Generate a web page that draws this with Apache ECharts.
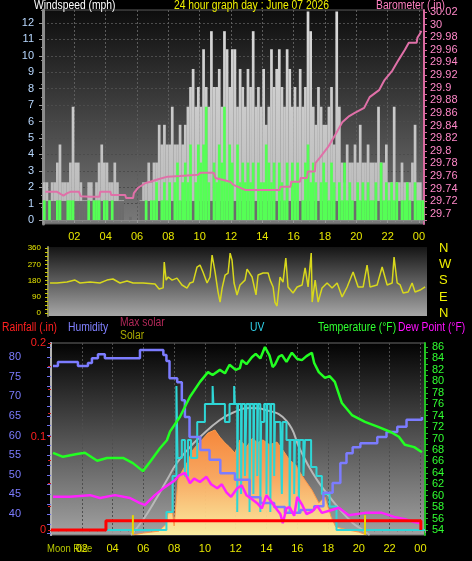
<!DOCTYPE html>
<html><head><meta charset="utf-8">
<script src="https://cdn.jsdelivr.net/npm/echarts@6/dist/echarts.min.js"></script>
<style>html,body{margin:0;padding:0;background:#000;overflow:hidden}#c{width:472px;height:561px}</style>
</head><body><div id="c"></div>
<script>
// ---------- DATA ----------
// Wind, 10-minute intervals starting 00:00 (mph)
const gust = [
 2.3,2.3,1.2,2.3,2.3,3.5, 4.6,2.3,2.3,2.3,3.5,6.9, 3.5,3.5,2.3,1.2,1.2,2.3, 2.3,1.2,2.3,3.5,4.6,3.5,
 3.5,2.3,2.3,3.5,2.3,1.2, 1.2,0,0,0.2,0,0, 0,1.2,2.3,2.3,3.5,2.3, 3.5,3.5,5.8,4.6,5.8,4.6,
 4.6,6.9,4.6,4.6,5.8,4.6, 5.8,6.9,8.1,9.2,6.9,8.1, 6.9,10.4,8.1,6.9,11.5,8.1, 8.1,9.2,6.9,11.5,10.4,8.1,
 10.4,10.4,6.9,9.2,8.1,6.9, 9.2,8.1,11.5,6.9,8.1,6.9, 9.2,5.8,6.9,10.4,8.1,9.2, 10.4,8.1,6.9,10.4,9.2,6.9,
 8.1,6.9,9.2,6.9,8.1,12.7, 11.5,6.9,5.8,8.1,6.9,5.8, 5.8,6.9,8.1,4.6,12.7,6.9, 3.5,2.3,4.6,3.5,3.5,4.6,
 3.5,5.8,3.5,3.5,4.6,3.5, 3.5,3.5,6.9,3.5,3.5,4.6, 2.3,2.3,6.9,2.3,2.3,3.5, 2.3,2.3,2.3,3.5,5.8,2.3,
 2.3,1.2
];
const speed = [
 1.2,0,1.2,0,0,1.2, 1.2,0,0,1.2,1.2,1.2, 0,0,0,0,0,1.2, 0,1.2,1.2,1.2,0,1.2,
 1.2,0,1.2,0,0,0, 0,0,0,0,0,0, 0,0,0,1.2,0,1.2, 1.2,2.3,0,1.2,2.3,1.2,
 2.3,0,2.3,3.5,1.2,2.3, 3.5,2.3,4.6,0,2.3,4.6, 3.5,4.6,6.9,2.3,0,3.5, 2.3,4.6,3.5,6.9,2.3,4.6,
 3.5,0,4.6,2.3,3.5,2.3, 3.5,2.3,3.5,0,3.5,2.3, 2.3,4.6,3.5,2.3,3.5,0, 3.5,2.3,1.2,3.5,0,3.5,
 2.3,3.5,0,1.2,3.5,4.6, 2.3,3.5,2.3,0,2.3,3.5, 2.3,1.2,3.5,2.3,0,2.3, 1.2,3.5,1.2,2.3,1.2,0,
 2.3,1.2,2.3,1.2,2.3,1.2, 1.2,2.3,0,3.5,1.2,2.3, 1.2,2.3,1.2,2.3,0,1.2, 1.2,2.3,1.2,0,2.3,1.2,
 1.2,1.2
];
// Barometer (inHg)
const baroT = [0.15,0.9,0.95,1.3,1.55,1.75,2.3,2.4,3.0,3.6,3.65,4.3,4.35,5.25,5.3,5.75,5.8,6.05,6.55,6.85,7.35,7.95,8.75,9.9,10.05,10.9,11.0,11.95,12.15,12.9,15.1,15.15,15.8,15.85,16.4,16.45,16.85,16.9,17.35,17.4,17.7,18.2,18.65,19.1,19.55,19.9,20.5,20.85,21.45,21.8,22.3,22.7,23.1,23.35,23.85,23.9,24.05,24.15];
const baroV = [29.735,29.735,29.733,29.729,29.733,29.735,29.735,29.728,29.727,29.727,29.735,29.735,29.730,29.730,29.725,29.725,29.733,29.741,29.749,29.751,29.755,29.759,29.760,29.762,29.765,29.765,29.757,29.751,29.746,29.738,29.738,29.743,29.743,29.751,29.751,29.757,29.757,29.767,29.767,29.781,29.790,29.806,29.825,29.845,29.855,29.860,29.868,29.885,29.896,29.912,29.927,29.944,29.960,29.971,29.971,29.979,29.985,29.990];
// Wind direction (degrees)
const dirT = [0.47,0.91,1.55,2.06,2.38,3.02,3.65,4.1,4.48,4.93,5.38,5.76,6.4,7.16,7.42,7.68,7.75,7.87,8.0,8.25,8.56,8.88,9.2,9.39,9.59,9.84,10.03,10.22,10.48,10.67,10.8,10.99,11.18,11.31,11.44,11.63,11.82,11.95,12.07,12.2,12.39,12.58,12.9,13.03,13.35,13.6,13.73,14.05,14.37,14.5,14.69,14.81,14.94,15.13,15.32,15.5,15.64,15.96,16.22,16.54,16.73,16.92,17.12,17.18,17.37,17.56,17.81,18.13,18.45,18.77,19.09,19.41,19.79,20.11,20.43,20.68,20.87,21.32,21.64,21.96,22.28,22.4,22.6,22.79,22.98,23.3,23.55,23.74,24.06,24.38];
const dirV = [167,167,172,183,167,172,167,183,189,167,178,167,167,161,134,140,283,183,200,183,194,156,139,167,172,255,266,228,167,200,321,228,117,62,139,211,222,332,294,167,101,156,183,244,200,101,211,222,222,183,145,60,40,200,172,305,145,112,145,156,250,145,332,62,183,62,139,167,139,167,90,145,228,145,145,266,145,156,255,156,167,310,167,156,112,117,167,117,128,145];
// Humidity (%)
const humT = [0.13,0.45,1.75,2.4,2.66,3.05,3.5,5.78,7.08,7.3,7.5,7.7,8.2,8.5,8.7,9.0,9.7,10.3,11.0,11.95,12.9,13.6,14.5,15.2,16.2,17.1,17.7,18.3,18.8,19.2,19.6,20.1,21.2,21.8,22.5,23.1,24.1];
const humV = [77.7,78.7,77.7,78.5,79.7,80.7,79.7,81.8,81.8,80.5,79,74.6,73.6,69,64.7,59.6,56.3,53.8,50.4,48.7,44.3,42.8,41.8,40.3,41,42,45.4,47.9,53,55.5,57,58,59.6,60.9,62.2,64,64.7];
// Temperature (F)
const tempT = [0.13,0.78,1.69,2.2,3.0,3.64,4.68,5.32,5.97,6.43,7.08,7.53,7.73,8.38,9.03,9.68,10.2,10.5,10.97,11.3,11.6,12.0,12.27,12.4,12.7,13.05,13.3,13.6,13.9,14.2,14.4,14.55,14.8,15.0,15.3,15.65,16.0,16.3,16.6,16.95,17.1,17.4,17.8,18.1,18.44,18.9,19.55,20.4,21.3,22.1,22.6,22.99,23.6,24.1];
const tempV = [67.5,66.8,67.3,67.5,66.1,66.6,66.6,65.7,64.3,65.9,68.3,69.7,71.2,73.8,77.3,79.9,81.6,81.1,82,81.4,82.9,82.0,82.3,83.7,83.0,84.2,84.8,84.0,86,84.5,82.5,82.9,84.3,84.6,83.4,85,83.9,83.7,84.4,85,83.2,81.6,80.6,80.9,79.9,76.2,74.1,72.9,72,71.1,70.3,68.9,68.5,67.6];
// Dew point (F)
const dewT = [0.13,1.23,2.53,3.18,4.16,5.13,5.78,6.1,6.75,7.4,8.05,8.3,8.7,9.03,9.3,9.68,10.1,10.4,10.8,11.1,11.4,11.7,12.1,12.4,12.7,13.0,13.4,13.7,14.0,14.3,14.7,14.9,15.06,15.3,15.5,15.8,16.0,16.3,16.6,16.95,17.3,17.6,18.25,18.7,19.35,20.4,21.5,22.3,23.0,23.6,24.0];
const dewV = [59.8,59.8,60.1,59.6,60.1,59.6,58.7,58.4,60.1,61.5,62.7,63.5,64,62.2,63.0,62.4,63.3,62.0,61.3,62.0,60.6,59.8,61.3,61.8,60.1,59.5,58.7,57.8,60.1,59.0,57.5,56.8,55.2,57.8,58,56.5,59.8,58.5,56.8,57.2,58.2,57,57.5,57.9,56.6,57,57,56.3,55.9,55.4,55.2];
// Solar radiation (W/m2) and theoretical max
const solT = [5.3,6.0,7.0,7.5,7.6,7.9,8.0,8.25,8.5,8.83,9.22,9.5,9.8,10.2,10.65,10.97,11.3,11.6,11.95,12.27,12.7,13.1,13.4,13.77,14.2,14.68,15.06,15.5,15.9,16.2,16.5,16.95,17.4,17.8,18.2,18.5,19.3,20.0,20.5];
const solV = [0,10,20,57,115,115,47,286,330,375,443,470,495,531,547,510,480,458,427,495,458,505,480,495,470,484,443,391,365,323,286,234,167,198,94,42,26,15,0];
const maxSolT = [5.2,5.97,6.9,7.53,8.18,9.03,9.68,10.97,11.9,12.9,14.0,15.3,16.2,17.0,17.9,18.8,19.6,20.26,20.7];
const maxSolV = [0,78,198,286,375,458,510,599,640,661,650,594,443,323,219,130,63,26,0];
// UV index
const uvT = [0,7.5,7.9,8.15,8.22,8.5,8.7,8.9,9.1,9.5,10.0,10.5,10.55,11.3,11.6,11.9,11.95,12.1,12.15,12.35,12.4,12.6,12.7,12.9,12.95,13.15,13.2,13.4,13.45,13.6,13.65,13.85,14.0,14.05,14.25,14.3,14.5,14.55,14.9,15.0,15.05,15.3,15.5,15.55,15.8,15.85,16.1,16.15,16.4,16.5,16.9,17.25,17.6,18.1,18.55,24.3];
const uvV = [0,1,3,8,4,5,3,5,4,6,7,8,7,6,7,8,7,1,7,2,7,3,7,1,7,2,7,3,7,1,6,7,2,7,1,7,3,6,6,2,6,5,1,5,2,5,1,5,3,5,3.5,3,2,1.3,0,0];
// Rainfall (in)
const rainT = [0,3.57,24.03];
const rainV = [0,0.01,0];
// Sunrise / sunset markers (h)
const sunMarks = [5.32,20.4];
// Axis tick labels
const windTicks = [0,1,2,3,4,5,6,7,8,9,10,11,12];
const baroTicks = [29.70,29.72,29.74,29.76,29.78,29.80,29.82,29.84,29.86,29.88,29.90,29.92,29.94,29.96,29.98,30.00,30.02];
const dirTicks = [0,90,180,270,360];
const dirNames = {0:'N',90:'E',180:'S',270:'W',360:'N'};
const humTicks = [40,45,50,55,60,65,70,75,80];
const rainTicks = [0,0.1,0.2];
const tempTicks = [54,56,58,60,62,64,66,68,70,72,74,76,78,80,82,84,86];

// ---------- CHART ----------
const F = "'Liberation Sans',sans-serif";
const zip = (t,v) => t.map((x,i)=>[x,v[i]]);
const slot = arr => arr.map((v,i)=>[i/6+1/12, v]);
const hourLbl = v => { if (v===0) return ''; const h=Math.round(v)%24; return (h<10?'0':'')+h; };
const vgrad = (a,b) => ({type:'linear',x:0,y:0,x2:0,y2:1,colorStops:[{offset:0,color:a},{offset:1,color:b}]});
function fine(a,b,s){const r=[];for(let k=0;a+k*s<=b+1e-9;k++) r.push(+(a+k*s).toFixed(4));return r;}

const chart = echarts.init(document.getElementById('c'), null, {renderer:'canvas'});
const gustColor = {type:'linear',x:0,y:10,x2:0,y2:224,global:true,colorStops:[
  {offset:0,color:'#dadada'},{offset:0.89,color:'#bcbcbc'},{offset:0.895,color:'#6c6c6c'},{offset:1,color:'#6c6c6c'}]};

const txt = (l,t,s,c,fs) => ({type:'text',x:l,y:t,scaleX:0.86,silent:true,style:{text:s,fill:c,font:(fs||12)+'px '+F}});

chart.setOption({
  animation:false,
  backgroundColor:'#000',
  grid:[
    {left:43,top:10,width:381,height:214,show:true,backgroundColor:vgrad('#0d0d0d','#7a7a7a'),borderColor:'#5a5a5a',borderWidth:1},
    {left:48,top:247,width:379,height:69,show:true,backgroundColor:vgrad('#151515','#a6a6a6'),borderWidth:0},
    {left:51,top:343,width:374,height:192,show:true,backgroundColor:vgrad('#030303','#a2a2a2'),borderColor:'#6a6a6a',borderWidth:1}
  ],
  xAxis:[
    {gridIndex:0,type:'value',min:0,max:24.32,interval:2,
     axisLine:{lineStyle:{color:'#8a8a8a'}},axisTick:{show:true,length:3,lineStyle:{color:'#9a9a9a'}},
     minorTick:{show:true,splitNumber:4,length:2,lineStyle:{color:'#8a8a8a'}},
     axisLabel:{color:'#e6e600',fontSize:11,fontFamily:F,margin:7,formatter:hourLbl},
     splitLine:{show:true,lineStyle:{color:'#5c5c5c',type:[2,2]}}},
    {gridIndex:1,type:'value',min:0.34,max:24.5,show:false},
    {gridIndex:2,type:'value',min:0,max:24.3,interval:2,
     axisLine:{lineStyle:{color:'#8a8a8a'}},axisTick:{show:true,length:3,lineStyle:{color:'#9a9a9a'}},
     minorTick:{show:true,splitNumber:4,length:2,lineStyle:{color:'#8a8a8a'}},
     axisLabel:{color:'#e6e600',fontSize:11,fontFamily:F,margin:8,formatter:hourLbl},
     splitLine:{show:true,lineStyle:{color:'#4e4e4e',type:[2,2]}}}
  ],
  yAxis:[
    {gridIndex:0,type:'value',min:-0.24,max:12.79,position:'left',
     axisLine:{show:true,lineStyle:{color:'#8c8c8c',width:3}},
     axisTick:{show:true,customValues:windTicks,length:4,lineStyle:{color:'#9a9a9a'}},
     minorTick:{show:true,splitNumber:4,length:2,lineStyle:{color:'#8a8a8a'}},
     axisLabel:{customValues:windTicks,color:'#b8d8ff',fontSize:11,fontFamily:F,margin:9},
     splitLine:{show:true,lineStyle:{color:'#4c4c4c',type:[2,2]}}},
    {gridIndex:0,type:'value',min:29.684,max:30.023,position:'right',
     axisLine:{show:true,lineStyle:{color:'#d86aa0',width:2}},
     axisTick:{show:true,customValues:fine(29.69,30.02,0.01),length:3,lineStyle:{color:'#d86aa0'}},
     axisLabel:{customValues:baroTicks,color:'#ff88c8',fontSize:11,fontFamily:F,margin:6,formatter:v=>String(+v.toFixed(2))},
     splitLine:{show:false}},
    {gridIndex:1,type:'value',min:-15,max:365.5,position:'left',
     axisLine:{show:true,lineStyle:{color:'#8a8a60',width:2}},
     axisTick:{show:true,customValues:fine(0,360,22.5),length:3,lineStyle:{color:'#c8c800'}},
     axisLabel:{customValues:dirTicks,color:'#e6e600',fontSize:8,fontFamily:F,margin:7},
     splitLine:{show:false}},
    {gridIndex:1,type:'value',min:-15,max:365.5,position:'right',
     axisLine:{show:false},axisTick:{show:false},
     axisLabel:{customValues:dirTicks,color:'#f0f000',fontSize:13,fontFamily:F,margin:12,formatter:v=>dirNames[v]},
     splitLine:{show:false}},
    {gridIndex:2,type:'value',min:34.65,max:83.57,position:'left',offset:22,
     axisLine:{show:true,lineStyle:{color:'#7070ee',width:2}},
     axisTick:{show:true,customValues:fine(35,82.5,2.5),length:4,lineStyle:{color:'#7070ee'}},
     axisLabel:{customValues:humTicks,color:'#7c7cff',fontSize:11,fontFamily:F,margin:8},
     splitLine:{show:false}},
    {gridIndex:2,type:'value',min:-0.00535,max:0.2,position:'left',
     axisLine:{show:true,lineStyle:{color:'#b4b4b4',width:2}},
     axisTick:{show:true,customValues:fine(0,0.2,0.025),length:3,lineStyle:{color:'#d02020'}},
     axisLabel:{customValues:rainTicks,color:'#ff2020',fontSize:11,fontFamily:F,margin:5},
     splitLine:{show:false}},
    {gridIndex:2,type:'value',min:53.13,max:86.7,position:'right',
     axisLine:{show:true,lineStyle:{color:'#22c022',width:2}},
     axisTick:{show:true,customValues:fine(54,86,1),length:3,lineStyle:{color:'#22c022'}},
     axisLabel:{customValues:tempTicks,color:'#30ff30',fontSize:11,fontFamily:F,margin:7},
     splitLine:{show:false}},
    {gridIndex:2,type:'value',min:0,max:1000,show:false},
    {gridIndex:2,type:'value',min:-0.278,max:10.39,show:false}
  ],
  series:[
    {type:'bar',xAxisIndex:0,yAxisIndex:0,data:slot(gust),barWidth:2.7,barGap:'-100%',itemStyle:{color:gustColor},z:2},
    {type:'bar',xAxisIndex:0,yAxisIndex:0,data:slot(speed),barWidth:2.7,barGap:'-100%',itemStyle:{color:'#55ff55'},z:3},
    {type:'line',xAxisIndex:0,yAxisIndex:1,data:zip(baroT,baroV),symbol:'none',lineStyle:{color:'#e070a8',width:2},z:4},
    {type:'line',xAxisIndex:1,yAxisIndex:2,data:zip(dirT,dirV),symbol:'none',lineStyle:{color:'#d8d81c',width:1.5},z:4},
    {type:'line',xAxisIndex:2,yAxisIndex:7,data:zip(solT,solV),symbol:'none',lineStyle:{color:'#ff9a4a',width:1},
     areaStyle:{color:{type:'linear',x:0,y:0,x2:0,y2:1,colorStops:[{offset:0,color:'#ff8a3a'},{offset:0.45,color:'#ffaa60'},{offset:1,color:'#fff0a0'}]},opacity:0.95},z:2},
    {type:'line',xAxisIndex:2,yAxisIndex:7,data:zip(maxSolT,maxSolV),symbol:'none',smooth:true,lineStyle:{color:'#b8b8b8',width:2},z:3},
    {type:'line',xAxisIndex:2,yAxisIndex:8,data:zip(uvT,uvV),step:'end',symbol:'none',lineStyle:{color:'#2ed6d6',width:2},z:4},
    {type:'line',xAxisIndex:2,yAxisIndex:4,data:zip(humT,humV),step:'end',symbol:'none',lineStyle:{color:'#7c7cff',width:2.5},z:5},
    {type:'line',xAxisIndex:2,yAxisIndex:6,data:zip(tempT,tempV),symbol:'none',lineStyle:{color:'#22ff22',width:2.5},z:6},
    {type:'line',xAxisIndex:2,yAxisIndex:6,data:zip(dewT,dewV),symbol:'none',lineStyle:{color:'#ff22ff',width:2.5},z:6},
    {type:'line',xAxisIndex:2,yAxisIndex:5,data:zip(rainT,rainV),step:'end',symbol:'none',lineStyle:{color:'#ff0000',width:3},z:7},
    ...sunMarks.map(t=>({type:'line',xAxisIndex:2,yAxisIndex:6,data:[[t,53.2],[t,56.6]],symbol:'none',lineStyle:{color:'#e8d800',width:2},z:7}))
  ],
  graphic:[
    txt(34,0,'Windspeed (mph)','#ffffff'),
    txt(174,0,'24 hour graph day : June 07 2026','#f0f000'),
    txt(376,0,'Barometer (.in)','#ff80c0'),
    txt(2,322,'Rainfall (.in)','#ff2020'),
    txt(68,322,'Humidity','#8080ff'),
    txt(120,317,'Max solar','#b02858'),
    txt(120,330,'Solar','#a8a800'),
    txt(250,322,'UV','#30d0e8'),
    txt(318,322,'Temperature (\u00b0F)','#30ff30'),
    txt(398,322,'Dew Point (\u00b0F)','#ff10ff'),
    txt(47,543,'Moon Rise','#b8c800',11)
  ]
});
</script></body></html>
